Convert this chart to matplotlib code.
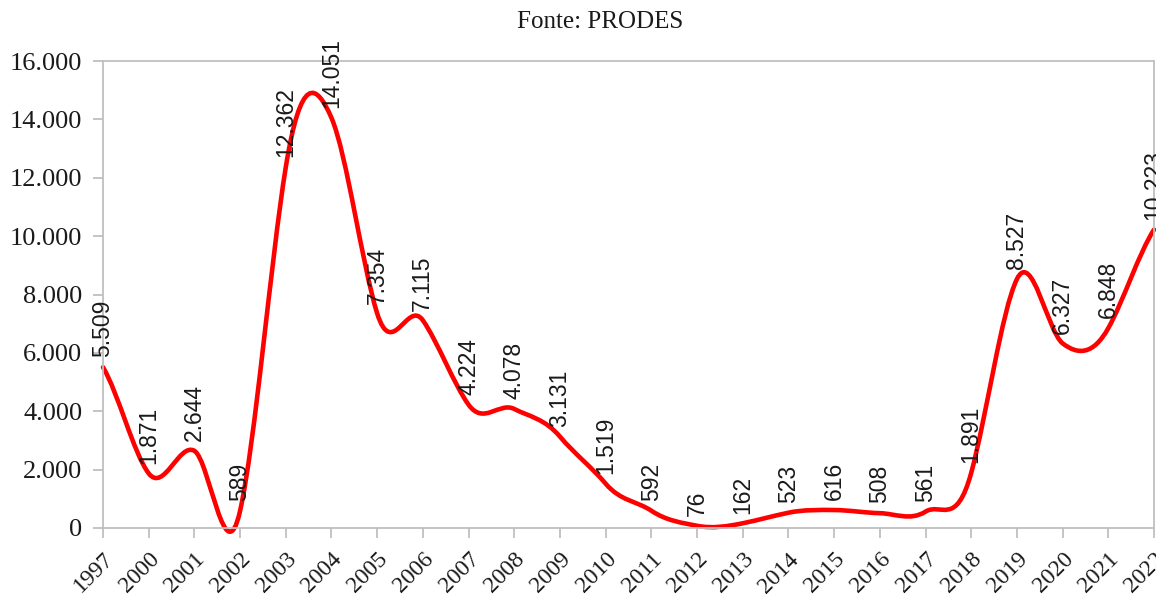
import matplotlib
matplotlib.use('Agg')
import matplotlib.pyplot as plt
from matplotlib.path import Path
from matplotlib.patches import PathPatch
from matplotlib.ticker import FuncFormatter

# desmatamento anual (km2) - PRODES
anos = ['1997', '2000', '2001', '2002', '2003', '2004', '2005', '2006', '2007',
        '2008', '2009', '2010', '2011', '2012', '2013', '2014', '2015', '2016',
        '2017', '2018', '2019', '2020', '2021', '2022']
area = [5509, 1871, 2644, 589, 12362, 14051, 7354, 7115, 4224, 4078, 3131,
        1519, 592, 76, 162, 523, 616, 508, 561, 1891, 8527, 6327, 6848, 10223]
eixo_y = [0, 2000, 4000, 6000, 8000, 10000, 12000, 14000, 16000]


def milhar(v):
    return '{:,}'.format(int(v)).replace(',', '.')


def curva_suave(xs, ys, k=0.72):
    # linha suavizada estilo Excel (bezier cubica entre os pontos)
    n = len(ys)
    verts = [(xs[0], ys[0])]
    codes = [Path.MOVETO]
    for i in range(n - 1):
        y_ant = ys[i - 1] if i > 0 else ys[i]
        y_prox = ys[i + 2] if i + 2 < n else ys[i + 1]
        m0 = k * (ys[i + 1] - y_ant)
        m1 = k * (y_prox - ys[i])
        verts += [(xs[i] + 1 / 3, ys[i] + m0 / 3),
                  (xs[i + 1] - 1 / 3, ys[i + 1] - m1 / 3),
                  (xs[i + 1], ys[i + 1])]
        codes += [Path.CURVE4] * 3
    return Path(verts, codes)


fig = plt.figure(figsize=(11.56, 6.0), dpi=100)
ax = fig.add_axes([103 / 1156, 1 - 528 / 600, (1154 - 103) / 1156, (528 - 61) / 600])

xs = list(range(len(anos)))
linha = PathPatch(curva_suave(xs, area), facecolor='none', edgecolor='#ff0000',
                  lw=3.3, capstyle='round', joinstyle='round', clip_on=False)
ax.add_patch(linha)

for x, v in zip(xs, area):
    ax.annotate(milhar(v), (x, v), xytext=(0, 7), textcoords='offset points',
                rotation=90, ha='center', va='bottom', fontsize=16.5,
                family='Liberation Sans', color='#1a1a1a', annotation_clip=False)

ax.set_xlim(0, len(anos) - 1)
ax.set_ylim(0, 16000)
ax.set_xticks(xs)
ax.set_xticklabels(anos, rotation=45, ha='right', va='top', rotation_mode='anchor',
                   family='Liberation Serif', fontsize=17)
ax.set_yticks(eixo_y)
ax.yaxis.set_major_formatter(FuncFormatter(lambda v, p: milhar(v)))
for t in ax.get_yticklabels():
    t.set_family('Liberation Serif')
    t.set_fontsize(19)

for s in ax.spines.values():
    s.set_color('#bfbfbf')
    s.set_linewidth(1.3)
ax.tick_params(axis='both', direction='out', length=7, width=1.3, color='#bfbfbf',
               labelcolor='#1a1a1a')
ax.tick_params(axis='y', pad=8)
ax.tick_params(axis='x', pad=8)

fig.text(600 / 1156, 1 - 22 / 600, 'Fonte: PRODES', ha='center', va='center',
         family='Liberation Serif', fontsize=18, color='#1a1a1a')

fig.savefig('out.png', dpi=100)
